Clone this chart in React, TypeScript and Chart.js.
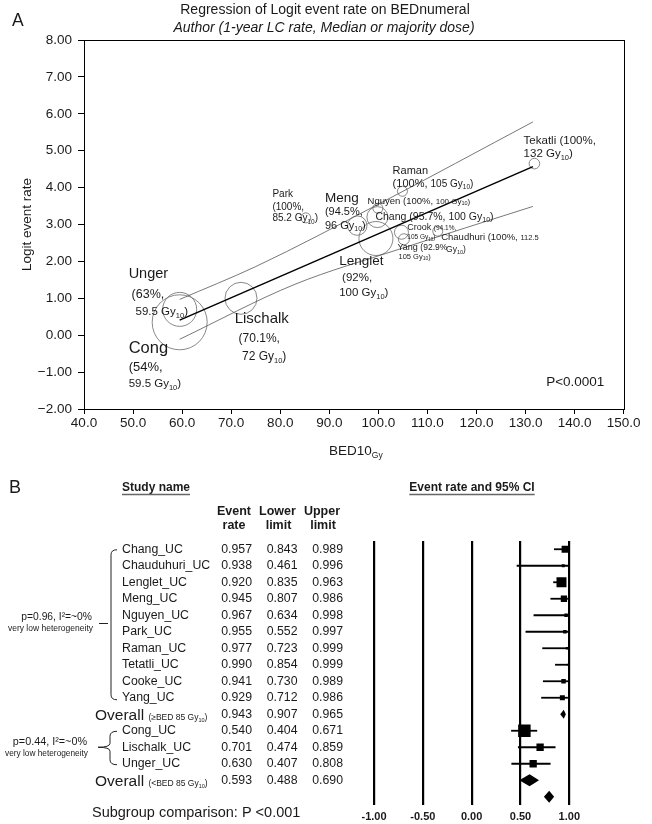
import React, { useEffect, useRef } from 'react';
import { Chart, registerables } from 'chart.js';

Chart.register(...registerables);

const FONT = '"Liberation Sans", Arial, Helvetica, sans-serif';
const INK = '#1a1a1a';

// ---------------- Panel A data ----------------
const bubbleStudies = ['Unger', 'Cong', 'Lischalk', 'Park', 'Meng', 'Lenglet', 'Chang', 'Nguyen', 'Raman', 'Crook', 'Yang', 'Chaudhuri', 'Tekatli'];
const bubbleBED = [59.5, 59.5, 72.0, 85.2, 95.7, 99.5, 99.8, 99.9, 104.9, 104.7, 105.2, 112.1, 131.8];
const bubbleLogit = [0.70, 0.35, 1.00, 3.18, 2.97, 2.62, 3.20, 3.44, 3.90, 2.79, 2.60, 2.82, 4.65];
const bubbleWeight = [17, 27.5, 16, 5, 9.7, 17, 10.5, 5, 5, 7, 5.5, 5, 5.3];

const regressionBED = [59.5, 131.5];
const regressionLogit = [0.41, 4.57];
const upperBandBED = [59.5, 75, 100, 131.5];
const upperBandLogit = [0.97, 1.86, 3.55, 5.78];
const lowerBandBED = [59.5, 83, 104, 131.5];
const lowerBandLogit = [-0.11, 1.38, 2.32, 3.49];

const bedTicks = [40, 50, 60, 70, 80, 90, 100, 110, 120, 130, 140, 150];
const logitTicks = [-2, -1, 0, 1, 2, 3, 4, 5, 6, 7, 8];

type Seg = [string, number, string?];
const annotationsA: { x: number; y: number; segs: Seg[] }[] = [
  { x: 129.6, y: 5.29, segs: [['Tekatli (100%,', 11.5]] },
  { x: 129.6, y: 4.94, segs: [['132 Gy', 11.5], ['10', 7.5, 'sub'], [')', 11.5]] },
  { x: 102.9, y: 4.48, segs: [['Raman', 11]] },
  { x: 102.9, y: 4.12, segs: [['(100%, ', 11], ['105 Gy', 10], ['10', 6.5, 'sub'], [')', 10]] },
  { x: 78.4, y: 3.85, segs: [['Park', 10]] },
  { x: 78.4, y: 3.50, segs: [['(100%,', 10]] },
  { x: 78.4, y: 3.18, segs: [['85.2 Gy', 10], ['10', 6.5, 'sub'], [')', 10]] },
  { x: 89.1, y: 3.75, segs: [['Meng', 13.5]] },
  { x: 89.1, y: 3.37, segs: [['(94.5%,', 11]] },
  { x: 89.1, y: 2.99, segs: [['96 Gy', 11], ['10', 7, 'sub'], [')', 11]] },
  { x: 97.8, y: 3.66, segs: [['Nguyen (100%, ', 9.5], ['100 Gy', 8], ['10', 5.5, 'sub'], [')', 8]] },
  { x: 99.4, y: 3.23, segs: [['Chang (95.7%, 100 Gy', 10.5], ['10', 7, 'sub'], [')', 10.5]] },
  { x: 105.9, y: 2.93, segs: [['Crook ', 9], ['(94.1%,', 6.5]] },
  { x: 105.9, y: 2.66, segs: [['105 Gy', 6.5], ['10', 4.5, 'sub'], [')', 6.5]] },
  { x: 112.8, y: 2.66, segs: [['Chaudhuri (100%, ', 9.5], ['112.5', 7.5]] },
  { x: 113.8, y: 2.34, segs: [['Gy', 8.5], ['10', 5.5, 'sub'], [')', 8.5]] },
  { x: 103.9, y: 2.39, segs: [['Yang ', 9], ['(92.9%', 8.5]] },
  { x: 104.1, y: 2.15, segs: [['105 Gy', 7.5], ['10', 5, 'sub'], [')', 7.5]] },
  { x: 92.0, y: 2.04, segs: [['Lenglet', 13.5]] },
  { x: 92.6, y: 1.58, segs: [['(92%,', 11.5]] },
  { x: 92.0, y: 1.17, segs: [['100 Gy', 11.5], ['10', 7.5, 'sub'], [')', 11.5]] },
  { x: 49.1, y: 1.69, segs: [['Unger', 14.5]] },
  { x: 49.7, y: 1.14, segs: [['(63%,', 12.5]] },
  { x: 50.5, y: 0.66, segs: [['59.5 Gy', 11.5], ['10', 7.5, 'sub'], [')', 11.5]] },
  { x: 49.1, y: -0.32, segs: [['Cong', 16.5]] },
  { x: 49.1, y: -0.83, segs: [['(54%,', 13]] },
  { x: 49.1, y: -1.30, segs: [['59.5 Gy', 11.5], ['10', 7.5, 'sub'], [')', 11.5]] },
  { x: 70.7, y: 0.47, segs: [['Lischalk', 15]] },
  { x: 71.5, y: -0.08, segs: [['(70.1%,', 12]] },
  { x: 72.2, y: -0.56, segs: [['72 Gy', 12], ['10', 7.5, 'sub'], [')', 12]] },
  { x: 134.2, y: -1.24, segs: [['P<0.0001', 13.5]] },
];

// ---------------- Panel B data ----------------
const rowLabels = ['Chang_UC', 'Chauduhuri_UC', 'Lenglet_UC', 'Meng_UC', 'Nguyen_UC', 'Park_UC', 'Raman_UC', 'Tetatli_UC', 'Cooke_UC', 'Yang_UC', 'Overall', 'Cong_UC', 'Lischalk_UC', 'Unger_UC', 'Overall'];
const rowIsOverall = [false, false, false, false, false, false, false, false, false, false, true, false, false, false, true];
const overallNotes = ['(≥BED 85 Gy', '(<BED 85 Gy'];
const eventRate = [0.957, 0.938, 0.920, 0.945, 0.967, 0.955, 0.977, 0.990, 0.941, 0.929, 0.943, 0.540, 0.701, 0.630, 0.593];
const lowerLimit = [0.843, 0.461, 0.835, 0.807, 0.634, 0.552, 0.723, 0.854, 0.730, 0.712, 0.907, 0.404, 0.474, 0.407, 0.488];
const upperLimit = [0.989, 0.996, 0.963, 0.986, 0.998, 0.997, 0.999, 0.999, 0.989, 0.986, 0.965, 0.671, 0.859, 0.808, 0.690];
const relativeWeight = [7, 3, 10, 6.3, 3.5, 3.5, 2.5, 2, 4.5, 5, 0, 12.5, 7.3, 7.3, 0];
const combinedRate = 0.794;
const combinedLower = 0.74;
const combinedUpper = 0.845;
const forestTicks = [-1, -0.5, 0, 0.5, 1];

function fontOf(size: number, bold = false, italic = false) {
  return `${italic ? 'italic ' : ''}${bold ? 'bold ' : ''}${size}px ${FONT}`;
}

function drawSegs(ctx: CanvasRenderingContext2D, segs: Seg[], x: number, y: number, align = 'left', bold = false) {
  const mainSizes = segs.filter((s) => s[2] !== 'sub').map((s) => s[1]);
  const main = Math.max(...mainSizes);
  const widths: number[] = [];
  let total = 0;
  for (const s of segs) {
    ctx.font = fontOf(s[1], bold);
    const w = ctx.measureText(s[0]).width;
    widths.push(w);
    total += w;
  }
  let cx = align === 'left' ? x : align === 'center' ? x - total / 2 : x - total;
  const base = y + main * 0.36;
  ctx.textAlign = 'left';
  ctx.textBaseline = 'alphabetic';
  segs.forEach((s, i) => {
    ctx.font = fontOf(s[1], bold);
    const by = s[2] === 'sub' ? base + s[1] * 0.35 : base;
    ctx.fillText(s[0], cx, by);
    cx += widths[i];
  });
  return total;
}

const panelAPlugin = {
  id: 'panelA',
  afterDraw(chart: any) {
    const { ctx, chartArea: ca, scales } = chart;
    const xs = scales.x;
    const ys = scales.y;
    ctx.save();
    ctx.strokeStyle = '#000';
    ctx.lineWidth = 1;
    ctx.strokeRect(Math.round(ca.left) + 0.5, Math.round(ca.top) + 0.5, Math.round(ca.right - ca.left), Math.round(ca.bottom - ca.top));
    ctx.fillStyle = INK;
    for (const a of annotationsA) {
      drawSegs(ctx, a.segs, xs.getPixelForValue(a.x), ys.getPixelForValue(a.y));
    }
    // titles
    ctx.textAlign = 'center';
    ctx.textBaseline = 'middle';
    ctx.font = fontOf(14);
    ctx.fillText('Regression of Logit event rate on BEDnumeral', 325, 10);
    ctx.font = fontOf(14, false, true);
    ctx.fillText('Author (1-year LC rate, Median or majority dose)', 324, 28);
    ctx.textAlign = 'left';
    ctx.font = fontOf(17.5);
    ctx.fillText('A', 12, 21);
    // x title with subscript
    drawSegs(ctx, [['BED10', 13.5], ['Gy', 8.5, 'sub']], (ca.left + ca.right) / 2 + 2, 450, 'center');
    ctx.restore();
  },
};

const panelBPlugin = {
  id: 'panelB',
  beforeDatasetsDraw(chart: any) {
    const { ctx, scales } = chart;
    const xs = scales.x;
    const ys = scales.y;
    ctx.save();
    ctx.strokeStyle = '#000';
    ctx.fillStyle = '#000';
    ctx.lineWidth = 1.8;
    rowLabels.forEach((_, i) => {
      const py = ys.getPixelForValue(i);
      if (rowIsOverall[i]) {
        const h = i === 10 ? 4.5 : 6;
        ctx.beginPath();
        ctx.moveTo(xs.getPixelForValue(lowerLimit[i]), py);
        ctx.lineTo(xs.getPixelForValue(eventRate[i]), py - h);
        ctx.lineTo(xs.getPixelForValue(upperLimit[i]), py);
        ctx.lineTo(xs.getPixelForValue(eventRate[i]), py + h);
        ctx.closePath();
        ctx.fill();
      } else {
        ctx.beginPath();
        ctx.moveTo(xs.getPixelForValue(lowerLimit[i]), py);
        ctx.lineTo(xs.getPixelForValue(upperLimit[i]), py);
        ctx.stroke();
      }
    });
    const cy = ys.getPixelForValue(15);
    ctx.beginPath();
    ctx.moveTo(xs.getPixelForValue(combinedLower), cy);
    ctx.lineTo(xs.getPixelForValue(combinedRate), cy - 6);
    ctx.lineTo(xs.getPixelForValue(combinedUpper), cy);
    ctx.lineTo(xs.getPixelForValue(combinedRate), cy + 6);
    ctx.closePath();
    ctx.fill();
    ctx.restore();
  },
  afterDraw(chart: any) {
    const { ctx, scales } = chart;
    const ys = scales.y;
    const rowY = (i: number) => ys.getPixelForValue(i);
    ctx.save();
    ctx.fillStyle = INK;
    ctx.textBaseline = 'middle';

    ctx.font = fontOf(18);
    ctx.textAlign = 'left';
    ctx.fillText('B', 9, 28);

    // headers
    ctx.font = fontOf(12, true);
    ctx.fillText('Study name', 122, 28);
    const w1 = ctx.measureText('Study name').width;
    ctx.textAlign = 'center';
    ctx.fillText('Event rate and 95% CI', 472, 28);
    const w2 = ctx.measureText('Event rate and 95% CI').width;
    ctx.strokeStyle = '#666';
    ctx.lineWidth = 1.4;
    ctx.beginPath();
    ctx.moveTo(122, 34.5);
    ctx.lineTo(122 + w1, 34.5);
    ctx.moveTo(472 - w2 / 2, 34.5);
    ctx.lineTo(472 + w2 / 2, 34.5);
    ctx.stroke();

    ctx.font = fontOf(12.5, true);
    ctx.fillText('Event', 234, 52);
    ctx.fillText('rate', 234, 66);
    ctx.fillText('Lower', 277.5, 52);
    ctx.fillText('limit', 278.5, 66);
    ctx.fillText('Upper', 322, 52);
    ctx.fillText('limit', 323, 66);

    // rows
    let overallIdx = 0;
    rowLabels.forEach((name, i) => {
      const py = rowY(i);
      if (rowIsOverall[i]) {
        ctx.fillStyle = INK;
        drawSegs(ctx, [[name + ' ', 15.5], [overallNotes[overallIdx], 8.5], ['10', 5.5, 'sub'], [')', 8.5]], 95, py + 0.5);
        overallIdx++;
      } else {
        ctx.textAlign = 'left';
        ctx.textBaseline = 'middle';
        ctx.font = fontOf(12.3);
        ctx.fillText(name, 122, py);
      }
      ctx.textAlign = 'right';
      ctx.textBaseline = 'middle';
      ctx.font = fontOf(12.3);
      ctx.fillText(eventRate[i].toFixed(3), 252, py);
      ctx.fillText(lowerLimit[i].toFixed(3), 297.5, py);
      ctx.fillText(upperLimit[i].toFixed(3), 343, py);
    });

    // bracket group 1
    ctx.strokeStyle = '#222';
    ctx.lineWidth = 1;
    const t1 = rowY(0) + 0.5;
    const b1 = rowY(9) + 2;
    const m1 = rowY(4.5);
    ctx.beginPath();
    ctx.moveTo(117, t1);
    ctx.quadraticCurveTo(111, t1, 111, t1 + 5);
    ctx.lineTo(111, b1 - 5);
    ctx.quadraticCurveTo(111, b1, 117, b1);
    ctx.moveTo(99, m1);
    ctx.lineTo(108, m1);
    ctx.stroke();
    ctx.fillStyle = INK;
    ctx.textAlign = 'right';
    ctx.textBaseline = 'middle';
    ctx.font = fontOf(10.3);
    ctx.fillText('p=0.96, I²=~0%', 92, m1 - 6);
    ctx.font = fontOf(8.5);
    ctx.fillText('very low heterogeneity', 93, m1 + 5);

    // bracket group 2 (curly brace)
    const t2 = rowY(11) + 0.5;
    const b2 = rowY(13) + 1;
    const m2 = rowY(12);
    ctx.beginPath();
    ctx.moveTo(117, t2);
    ctx.quadraticCurveTo(110, t2, 110, t2 + 5);
    ctx.lineTo(110, m2 - 4);
    ctx.quadraticCurveTo(110, m2, 98, m2);
    ctx.quadraticCurveTo(110, m2, 110, m2 + 4);
    ctx.lineTo(110, b2 - 5);
    ctx.quadraticCurveTo(110, b2, 117, b2);
    ctx.stroke();
    ctx.font = fontOf(10.8);
    ctx.fillText('p=0.44, I²=~0%', 87, m2 - 5);
    ctx.font = fontOf(8.3);
    ctx.fillText('very low heterogeneity', 88, m2 + 6);

    // subgroup comparison
    ctx.textAlign = 'left';
    ctx.font = fontOf(14.5);
    ctx.fillText('Subgroup comparison: P <0.001', 92, 353);
    ctx.restore();
  },
};

function PanelA() {
  const ref = useRef<HTMLCanvasElement>(null);
  useEffect(() => {
    const tickFont = { family: FONT, size: 13.5 };
    const chart = new Chart(ref.current as HTMLCanvasElement, {
      type: 'bubble',
      data: {
        datasets: [
          {
            type: 'line',
            data: regressionBED.map((x, i) => ({ x, y: regressionLogit[i] })),
            borderColor: '#000',
            borderWidth: 1.5,
            pointRadius: 0,
            fill: false,
          } as any,
          {
            type: 'line',
            data: upperBandBED.map((x, i) => ({ x, y: upperBandLogit[i] })),
            borderColor: '#555',
            borderWidth: 0.8,
            pointRadius: 0,
            cubicInterpolationMode: 'monotone',
            fill: false,
          } as any,
          {
            type: 'line',
            data: lowerBandBED.map((x, i) => ({ x, y: lowerBandLogit[i] })),
            borderColor: '#555',
            borderWidth: 0.8,
            pointRadius: 0,
            cubicInterpolationMode: 'monotone',
            fill: false,
          } as any,
          {
            type: 'bubble',
            label: 'studies',
            data: bubbleBED.map((x, i) => ({ x, y: bubbleLogit[i], r: bubbleWeight[i] })),
            backgroundColor: 'rgba(0,0,0,0)',
            borderColor: '#6a6a6a',
            borderWidth: 0.8,
          } as any,
        ],
      },
      options: {
        responsive: false,
        animation: false,
        devicePixelRatio: 1,
        events: [],
        layout: { padding: { left: 0, right: 12, top: 40, bottom: 0 } },
        plugins: { legend: { display: false }, tooltip: { enabled: false } },
        scales: {
          x: {
            type: 'linear',
            min: 40,
            max: 150,
            afterBuildTicks: (s: any) => {
              s.ticks = bedTicks.map((v) => ({ value: v }));
            },
            afterFit: (s: any) => {
              s.height = 61;
              s.paddingLeft = 0;
              s.paddingRight = 0;
            },
            grid: { display: true, drawOnChartArea: false, drawTicks: true, tickLength: 5, color: '#000', lineWidth: 1 },
            border: { display: false },
            ticks: {
              color: INK,
              font: tickFont,
              padding: 1,
              autoSkip: false,
              maxRotation: 0,
              callback: (v: any) => Number(v).toFixed(1),
            },
          },
          y: {
            type: 'linear',
            min: -2,
            max: 8,
            afterBuildTicks: (s: any) => {
              s.ticks = logitTicks.map((v) => ({ value: v }));
            },
            afterFit: (s: any) => {
              s.width = 84;
              s.paddingTop = 0;
              s.paddingBottom = 0;
            },
            grid: { display: true, drawOnChartArea: false, drawTicks: true, tickLength: 6, color: '#000', lineWidth: 1 },
            border: { display: false },
            ticks: {
              color: INK,
              font: tickFont,
              padding: 6,
              autoSkip: false,
              callback: (v: any) => (Number(v) < 0 ? '\u2212' : '') + Math.abs(Number(v)).toFixed(2),
            },
            title: {
              display: true,
              text: 'Logit event rate',
              color: INK,
              font: { family: FONT, size: 13.5 },
              padding: { top: 19, bottom: 0 },
            },
          },
        },
      } as any,
      plugins: [panelAPlugin as any],
    });
    return () => chart.destroy();
  }, []);
  return <canvas ref={ref} width={652} height={470} style={{ position: 'absolute', left: 0, top: 0 }} />;
}

function PanelB() {
  const ref = useRef<HTMLCanvasElement>(null);
  useEffect(() => {
    const studyIdx = rowLabels.map((_, i) => i).filter((i) => !rowIsOverall[i]);
    const chart = new Chart(ref.current as HTMLCanvasElement, {
      type: 'scatter',
      data: {
        datasets: [
          {
            label: 'event rate',
            data: studyIdx.map((i) => ({ x: eventRate[i], y: i })),
            pointStyle: 'rect',
            pointRadius: studyIdx.map((i) => relativeWeight[i] / Math.SQRT2),
            backgroundColor: '#000',
            borderWidth: 0,
          } as any,
        ],
      },
      options: {
        responsive: false,
        animation: false,
        devicePixelRatio: 1,
        events: [],
        layout: { padding: { left: 374, right: 82.7, top: 81, bottom: 0 } },
        plugins: { legend: { display: false }, tooltip: { enabled: false } },
        scales: {
          x: {
            type: 'linear',
            min: -1,
            max: 1,
            afterBuildTicks: (s: any) => {
              s.ticks = forestTicks.map((v) => ({ value: v }));
            },
            afterFit: (s: any) => {
              s.height = 19;
              s.paddingLeft = 0;
              s.paddingRight = 0;
            },
            grid: { display: true, drawOnChartArea: true, drawTicks: false, color: '#000', lineWidth: 2.2 },
            border: { display: false },
            ticks: {
              color: INK,
              font: { family: FONT, size: 11, weight: 'bold' },
              padding: 5,
              autoSkip: false,
              maxRotation: 0,
              callback: (v: any) => Number(v).toFixed(2),
            },
          },
          y: {
            type: 'linear',
            min: -0.5,
            max: 15.5,
            reverse: true,
            display: false,
          },
        },
      } as any,
      plugins: [panelBPlugin as any],
    });
    return () => chart.destroy();
  }, []);
  return <canvas ref={ref} width={652} height={364} style={{ position: 'absolute', left: 0, top: 460 }} />;
}

export default function App() {
  return (
    <div style={{ position: 'absolute', left: 0, top: 0, width: 652, height: 824, background: '#fff', overflow: 'hidden' }}>
      <PanelA />
      <PanelB />
    </div>
  );
}
